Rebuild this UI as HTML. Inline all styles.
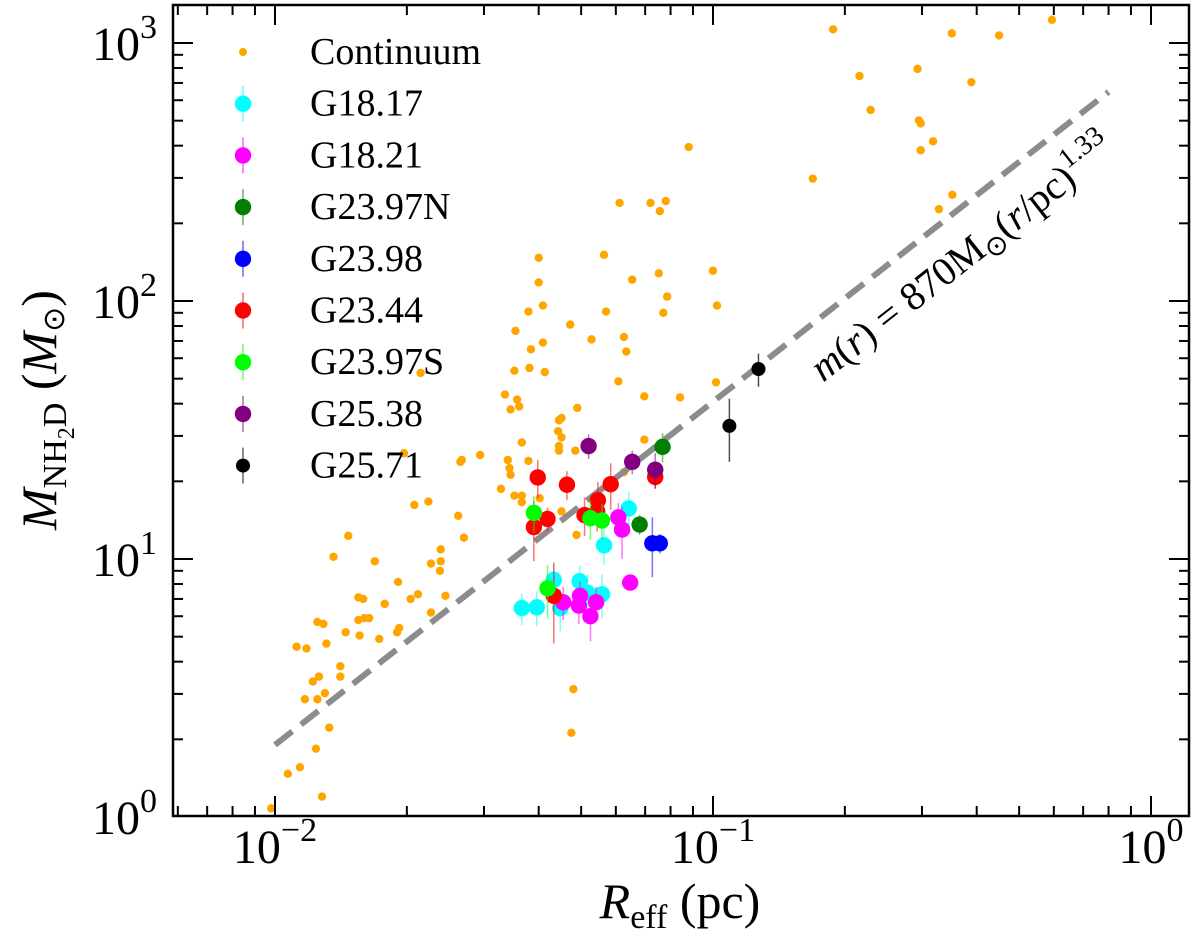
<!DOCTYPE html>
<html><head><meta charset="utf-8"><style>
html,body{margin:0;padding:0;background:#fff;}
svg{display:block;font-family:"Liberation Serif",serif;}
</style></head><body>
<svg id="chart" width="1200" height="940" viewBox="0 0 1200 940" xmlns="http://www.w3.org/2000/svg">
<g id="marks"></g>
<g id="axes"></g>
<g id="legend"></g>
<text x="680" y="918" font-size="50" text-anchor="middle"><tspan font-style="italic">R</tspan><tspan font-size="34" dy="10">eff</tspan><tspan dy="-10"> (pc)</tspan></text>
<text transform="translate(56,410) rotate(-90)" font-size="50" text-anchor="middle"><tspan font-style="italic">M</tspan><tspan font-size="34" dy="10">NH</tspan><tspan font-size="24" dy="8">2</tspan><tspan font-size="34" dy="-8">D</tspan><tspan dy="-10"> (</tspan><tspan font-style="italic">M</tspan><tspan font-size="30" dy="8">⊙</tspan><tspan dy="-8">)</tspan></text>
<text transform="translate(970,268) rotate(-38)" font-size="40" text-anchor="middle"><tspan font-style="italic">m</tspan>(<tspan font-style="italic">r</tspan>) = 870M<tspan font-size="28" dy="8">⊙</tspan><tspan dy="-8">(</tspan><tspan font-style="italic">r</tspan>/pc)<tspan font-size="28" dy="-18">1.33</tspan></text>
</svg>
<script>
// ---- data ----
const contR = [0.0265,0.0208,0.0224,0.0262,0.0270,0.0147,0.0136,0.0169,0.0239,0.0227,0.0239,0.0238,0.0191,0.0155,0.0159,0.0204,0.0212,0.0245,0.0178,0.0227,0.0125,0.0129,0.0155,0.0160,0.0164,0.0145,0.0156,0.0173,0.0192,0.0190,0.0112,0.0118,0.0131,0.0141,0.0141,0.0126,0.0122,0.0130,0.0117,0.0125,0.0133,0.0124,0.0114,0.0107,0.0128,0.0098,0.088,0.0612,0.072,0.078,0.0756,0.040,0.0564,0.040,0.0654,0.0752,0.100,0.0409,0.0379,0.0570,0.0786,0.0770,0.1021,0.0354,0.0472,0.0528,0.0626,0.0634,0.0384,0.0409,0.0352,0.0381,0.0413,0.0608,0.1016,0.0335,0.0357,0.0361,0.0345,0.0490,0.0697,0.0841,0.0451,0.0443,0.0451,0.0366,0.0445,0.0445,0.0485,0.0697,0.0294,0.0267,0.0340,0.0379,0.0343,0.0345,0.0197,0.0328,0.0352,0.0366,0.0366,0.0402,0.0445,0.0451,0.0488,0.0626,0.0480,0.0475,0.0215,0.188,0.351,0.45,0.594,0.216,0.293,0.389,0.229,0.295,0.298,0.318,0.298,0.169,0.352,0.328];
const contM = [23.8,16.2,16.7,14.7,12.1,12.3,10.2,9.8,10.9,9.6,9.8,9.0,8.15,7.1,7.0,7.0,7.3,7.2,6.7,6.2,5.7,5.6,5.8,5.9,5.9,5.2,5.05,4.9,5.4,5.2,4.57,4.5,4.7,3.84,3.5,3.5,3.35,3.02,2.86,2.86,2.22,1.84,1.56,1.47,1.2,1.08,395,240,240,244,223,147,151,118,121,128,131,96,91,91,104,90,96,76.6,81,71,72.5,63.7,65,69,53.7,55,53,48.8,48.4,43.4,41.5,39,38,38.5,42.7,42.3,35.2,31.3,29.6,28.3,27.4,26.3,26.3,29,25.3,24.2,24.2,24.0,22.5,21.2,25.7,18.7,17.6,17.6,16.6,17.2,34.5,15.3,12.4,21.7,3.13,2.12,52.6,1130,1090,1070,1230,745,794,705,550,501,488,416,384,298,258,227];

const seriesNames = ["G18.17","G18.21","G23.97N","G23.98","G23.44","G23.97S","G25.38","G25.71"];
const seriesColors = ["#00ffff","#ff00ff","#007f00","#0000ff","#ff0000","#00ff00","#800080","#000000"];
const g1817R = [0.0642,0.0564,0.0433,0.0496,0.0517,0.0558,0.0366,0.0396,0.0448];
const g1817M = [15.7,11.3,8.3,8.2,7.4,7.3,6.45,6.5,6.45];
const g1817E = [2.5,1.8,1.3,1.2,1.3,1.4,0.9,1.0,1.2];
const g1821R = [0.0608,0.0620,0.0647,0.0455,0.0497,0.0494,0.0541,0.0525];
const g1821M = [14.5,13.0,8.1,6.8,7.2,6.6,6.8,6.0];
const g1821E = [2.0,3.0,0.5,1.0,1.0,1.0,1.0,1.2];
const g2397NR = [0.0767,0.068];
const g2397NM = [27.2,13.6];
const g2397NE = [3.5,1.2];
const g2398R = [0.0727,0.0756];
const g2398M = [11.5,11.5];
const g2398E = [3.0,1.0];
const g2344R = [0.0398,0.0464,0.0584,0.0546,0.0509,0.0544,0.0738,0.0390,0.0419,0.0433];
const g2344M = [20.7,19.4,19.5,16.9,14.8,15.3,20.8,13.3,14.3,7.2];
const g2344E = [3.5,2.5,4.0,3.0,2.5,2.5,2.0,3.5,1.5,2.5];
const g2397SR = [0.0390,0.0525,0.0558,0.0419];
const g2397SM = [15.1,14.4,14.1,7.7];
const g2397SE = [2.5,2.5,2.2,1.8];
const g2538R = [0.052,0.0654,0.0738];
const g2538M = [27.4,23.8,22.2];
const g2538E = [3.0,2.5,3.5];
const g2571R = [0.127,0.109];
const g2571M = [54.5,32.8];
const g2571E = [8,9];
const fitCoef = 870, fitExp = 1.33, fitRmin = 0.01, fitRmax = 0.8;
const xTickVals = [0.01,0.1,1];
const xTickExp = ["−2","−1","0"];
const yTickVals = [1,10,100,1000];
const yTickExp = ["0","1","2","3"];

// ---- axes ----
const L=173,R=1189,T=5,B=816;
function xs(r){return 713+438*(Math.log10(r)+1);}
function ys(m){return 817-258*Math.log10(m);}
const NS="http://www.w3.org/2000/svg";
function mk(tag,attrs,parent){const e=document.createElementNS(NS,tag);for(const k in attrs)e.setAttribute(k,attrs[k]);parent.appendChild(e);return e;}
const marks=document.getElementById('marks'), axes=document.getElementById('axes'), legend=document.getElementById('legend');

contR.forEach((r,i)=>{
  const c=mk('circle',{cx:xs(r),cy:ys(contM[i]),r:4.2,fill:'#ffa500'},marks);
  
  
});
const fl=mk('line',{x1:xs(fitRmin),y1:ys(fitCoef*Math.pow(fitRmin,fitExp)),x2:xs(fitRmax),y2:ys(fitCoef*Math.pow(fitRmax,fitExp)),stroke:'#8c8c8c','stroke-width':6,'stroke-dasharray':'22 11'},marks);



const groups=[[g1817R,g1817M,g1817E],[g1821R,g1821M,g1821E],[g2397NR,g2397NM,g2397NE],[g2398R,g2398M,g2398E],[g2344R,g2344M,g2344E],[g2397SR,g2397SM,g2397SE],[g2538R,g2538M,g2538E],[g2571R,g2571M,g2571E]];
groups.forEach((g,si)=>{
  const col=seriesColors[si], rad = si===7?7:8.2;
  g[0].forEach((r,i)=>{
    const x=xs(r), m=g[1][i], e=g[2][i];
    const el=mk('line',{x1:x,x2:x,y1:ys(m+e),y2:ys(Math.max(m-e,0.5)),stroke:col,'stroke-width':1.5,'stroke-opacity':si===7?0.7:0.55},marks);
    
    
    const c=mk('circle',{cx:x,cy:ys(m),r:rad,fill:col},marks);
    
    
  });
});

const fr=mk('rect',{x:L,y:T,width:R-L,height:B-T,fill:'none',stroke:'#000','stroke-width':2.5},axes);


for(let d=-3;d<=0;d++){for(let k=1;k<=9;k++){const v=k*Math.pow(10,d);const x=xs(v);if(x<L+1||x>R-1)continue;const len=k===1?20:10;
  mk('line',{x1:x,x2:x,y1:B,y2:B-len,stroke:'#000','stroke-width':2},axes);
  mk('line',{x1:x,x2:x,y1:T,y2:T+len,stroke:'#000','stroke-width':2},axes);}}
for(let d=0;d<=3;d++){for(let k=1;k<=9;k++){const v=k*Math.pow(10,d);const y=ys(v);if(y<T+1||y>B-1)continue;const len=k===1?20:10;
  mk('line',{x1:L,x2:L+len,y1:y,y2:y,stroke:'#000','stroke-width':2},axes);
  mk('line',{x1:R,x2:R-len,y1:y,y2:y,stroke:'#000','stroke-width':2},axes);}}
xTickVals.forEach((v,i)=>{
  const t=mk('text',{x:xs(v),y:863,'font-size':48,'text-anchor':'middle'},axes);
  
  
  t.innerHTML='10<tspan font-size="34" dy="-22">'+xTickExp[i]+'</tspan>';
});
yTickVals.forEach((v,i)=>{
  const t=mk('text',{x:157,y:ys(v)+17,'font-size':48,'text-anchor':'end'},axes);
  
  
  t.innerHTML='10<tspan font-size="34" dy="-22">'+yTickExp[i]+'</tspan>';
});

const lg0=52, lgStep=51.7;
const ld=mk('circle',{cx:243,cy:lg0,r:4,fill:'#ffa500'},legend);


const lt=mk('text',{x:310,y:lg0+12,'font-size':38},legend);


lt.textContent='Continuum';
seriesNames.forEach((n,i)=>{
  const y=lg0+lgStep*(i+1), col=seriesColors[i];
  mk('line',{x1:243,x2:243,y1:y-18,y2:y+18,stroke:col,'stroke-width':1.5,'stroke-opacity':0.6},legend);
  const c=mk('circle',{cx:243,cy:y,r:i===7?7:8.2,fill:col},legend);
  
  
  const t=mk('text',{x:310,y:y+12,'font-size':38},legend);
  
  
  t.textContent=n;
});
</script>
</body></html>
